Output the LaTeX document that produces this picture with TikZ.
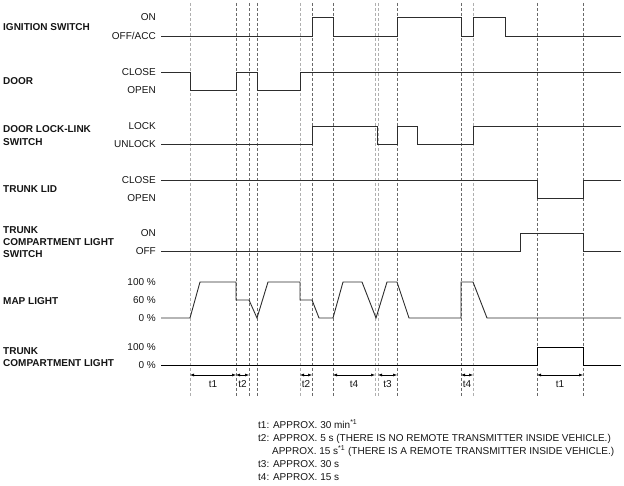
\documentclass[tikz,border=0pt]{standalone}
\usepackage{fontspec}
\setmainfont{Liberation Sans}
\usepackage{tikz}
\usetikzlibrary{arrows.meta}
\definecolor{sigDark}{RGB}{45,45,45}
\definecolor{tickDark}{RGB}{105,105,105}
\definecolor{tickLight}{RGB}{175,175,175}
\definecolor{txtDark}{RGB}{20,20,20}

\begin{document}
\begin{tikzpicture}[x=1pt, y=-1pt,
  sig/.style={sigDark, line width=0.9pt, line join=miter},
  tickline/.style={tickDark, line width=0.5pt, dash pattern=on 3pt off 2pt},
  ticklight/.style={tickLight, line width=0.9pt, dash pattern=on 3pt off 2pt},
  timearrow/.style={black, line width=0.5pt, {Latex[length=4pt,width=3pt]}-{Latex[length=4pt,width=3pt]}},
  lvl/.style={anchor=east, inner sep=0pt, text=txtDark, font=\fontsize{10}{12}\selectfont},
  ttl/.style={anchor=west, inner sep=0pt, align=left, text=txtDark, font=\fontsize{10}{12.3}\selectfont\bfseries},
  lgd/.style={anchor=base west, inner sep=0pt, text=txtDark, font=\fontsize{10}{12}\selectfont}]
\useasboundingbox (0,0) rectangle (624,486);

% time marks
\foreach \n/\xx/\st in {1/190/ticklight, 2/236/tickline, 3/249/tickline, 4/257/tickline,
  5/300/ticklight, 6/312/tickline, 7/333/tickline, 8/375/ticklight, 9/378/ticklight,
  10/397/tickline, 11/461/tickline, 12/473/ticklight, 13/537/tickline, 14/583/tickline}{
  \coordinate (m\n) at (\xx,3);
  \coordinate (p\n) at (\xx,375);
  \draw[\st] (m\n) -- (\xx,397);
}

% titles
\node[ttl] (tIgn) at (3,27) {IGNITION SWITCH};
\node[ttl] (tDoor) at (3,81) {DOOR};
\node[ttl] (tLock) at (3,135.5) {DOOR LOCK-LINK\\SWITCH};
\node[ttl] (tLid) at (3,189) {TRUNK LID};
\node[ttl] (tSw) at (3,242) {TRUNK\\COMPARTMENT LIGHT\\SWITCH};
\node[ttl] (tMap) at (3,301) {MAP LIGHT};
\node[ttl] (tCpl) at (3,357) {TRUNK\\COMPARTMENT LIGHT};

% levels
\node[lvl] (ignOn) at (156,17.5) {ON};
\node[lvl] (ignOff) at (156,36) {OFF/ACC};
\node[lvl] (doorCl) at (156,72) {CLOSE};
\node[lvl] (doorOp) at (156,90) {OPEN};
\node[lvl] (lockL) at (156,126) {LOCK};
\node[lvl] (lockU) at (156,144) {UNLOCK};
\node[lvl] (lidCl) at (156,180) {CLOSE};
\node[lvl] (lidOp) at (156,198) {OPEN};
\node[lvl] (swOn) at (156,233) {ON};
\node[lvl] (swOff) at (156,251) {OFF};
\node[lvl] (mapHi) at (156,282) {100 \%};
\node[lvl] (mapMid) at (156,300) {60 \%};
\node[lvl] (mapLo) at (156,318) {0 \%};
\node[lvl] (cplHi) at (156,347) {100 \%};
\node[lvl] (cplLo) at (156,365) {0 \%};

% signals
\draw[sig] (161,36) -- (312,36) -- (312,17.5) -- (333,17.5) -- (333,36) -- (397,36) -- (397,17.5)
  -- (461,17.5) -- (461,36) -- (473,36) -- (473,17.5) -- (505,17.5) -- (505,36) -- (621,36);
\draw[sig] (161,72) -- (190,72) -- (190,90) -- (236,90) -- (236,72) -- (257,72) -- (257,90)
  -- (300,90) -- (300,72) -- (621,72);
\draw[sig] (161,144) -- (312,144) -- (312,126) -- (377,126) -- (377,144) -- (397,144) -- (397,126)
  -- (417,126) -- (417,144) -- (473,144) -- (473,126) -- (621,126);
\draw[sig] (161,180) -- (537,180) -- (537,198) -- (583,198) -- (583,180) -- (621,180);
\draw[sig] (161,251) -- (520,251) -- (520,233) -- (583,233) -- (583,251) -- (621,251);
\draw[sig] (161,318) -- (190,318) -- (200,282) -- (236,282) -- (236,300) -- (249,300) -- (257,318)
  -- (268,282) -- (300,282) -- (300,300) -- (312,300) -- (319,318) -- (333,318) -- (343,282)
  -- (362,282) -- (376,318) -- (387,282) -- (397,282) -- (409,318) -- (461,318) -- (461,282)
  -- (473,282) -- (487,318) -- (621,318);
\draw[sig, black] (161,365) -- (537,365) -- (537,347) -- (583,347) -- (583,365) -- (621,365);

% durations
\draw[timearrow] (p1) -- node[lvl, anchor=north, yshift=-5pt] (d1) {t1} (p2);
\draw[timearrow] (p2) -- node[lvl, anchor=north, yshift=-5pt] (d2) {t2} (p3);
\draw[timearrow] (p5) -- node[lvl, anchor=north, yshift=-5pt] (d3) {t2} (p6);
\draw[timearrow] (p7) -- node[lvl, anchor=north, yshift=-5pt] (d4) {t4} (p8);
\draw[timearrow] (p9) -- node[lvl, anchor=north, yshift=-5pt] (d5) {t3} (p10);
\draw[timearrow] (p11) -- node[lvl, anchor=north, yshift=-5pt] (d6) {t4} (p12);
\draw[timearrow] (p13) -- node[lvl, anchor=north, yshift=-5pt] (d7) {t1} (p14);

% legend
\node[lgd] (leg1) at (258,428) {t1: APPROX. 30 min\textsuperscript{*1}};
\node[lgd] (leg2) at (258,441) {t2: APPROX. 5 s (THERE IS NO REMOTE TRANSMITTER INSIDE VEHICLE.)};
\node[lgd] (leg3) at (258,454) {\phantom{t2:\ }APPROX. 15 s\textsuperscript{*1} (THERE IS A REMOTE TRANSMITTER INSIDE VEHICLE.)};
\node[lgd] (leg4) at (258,467) {t3: APPROX. 30 s};
\node[lgd] (leg5) at (258,480) {t4: APPROX. 15 s};
\end{tikzpicture}
\end{document}
